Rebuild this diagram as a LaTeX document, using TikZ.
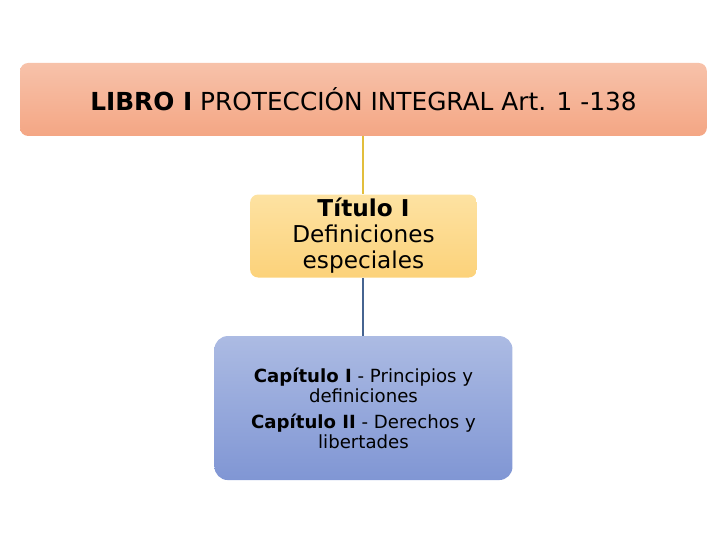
\documentclass[tikz,border=0pt]{standalone}
\usepackage{fontspec}
\setmainfont{DejaVu Sans}
\usetikzlibrary{positioning}
\definecolor{libroTop}{RGB}{247,194,170}
\definecolor{libroBot}{RGB}{244,166,132}
\definecolor{tituloTop}{RGB}{253,226,162}
\definecolor{tituloBot}{RGB}{252,210,122}
\definecolor{capTop}{RGB}{172,187,227}
\definecolor{capBot}{RGB}{128,150,212}
\definecolor{lineaAm}{RGB}{226,190,60}
\definecolor{lineaAz}{RGB}{70,100,145}

\begin{document}
\begin{tikzpicture}[
      caja/.style = {rectangle, align=center, text=black, inner sep=2pt},
      libro/.style = {caja, top color=libroTop, bottom color=libroBot, rounded corners=6pt,
                      minimum width=515pt, minimum height=54.75pt, font=\fontsize{18.6}{22}\selectfont},
      titulo/.style = {caja, top color=tituloTop, bottom color=tituloBot, rounded corners=6pt,
                       minimum width=170pt, minimum height=62.25pt, font=\fontsize{17.4}{19.5}\selectfont},
      capitulo/.style = {caja, top color=capTop, bottom color=capBot, rounded corners=10pt,
                         minimum width=223.5pt, minimum height=108pt, font=\fontsize{13.6}{15}\selectfont},
      enlace/.style = {line width=1.5pt},
      node distance = 43.5pt
      ]
      \useasboundingbox (0pt,0pt) rectangle (540pt,-405pt);
      \node[libro] (libro) at (272.6pt,-74.6pt) {\textbf{LIBRO I} PROTECCIÓN INTEGRAL Art. 1 -138};
      \node[titulo, below=of libro] (titulo) {\textbf{Título I}\\Definiciones\\especiales};
      \node[capitulo, below=of titulo] (capitulo) {\textbf{Capítulo I} - Principios y\\definiciones\\[4.5pt]
        \textbf{Capítulo II} - Derechos y\\libertades};

      \draw[enlace,draw=lineaAm] (libro) -- (titulo);
      \draw[enlace,draw=lineaAz] (titulo) -- (capitulo);
    \end{tikzpicture}
\end{document}
